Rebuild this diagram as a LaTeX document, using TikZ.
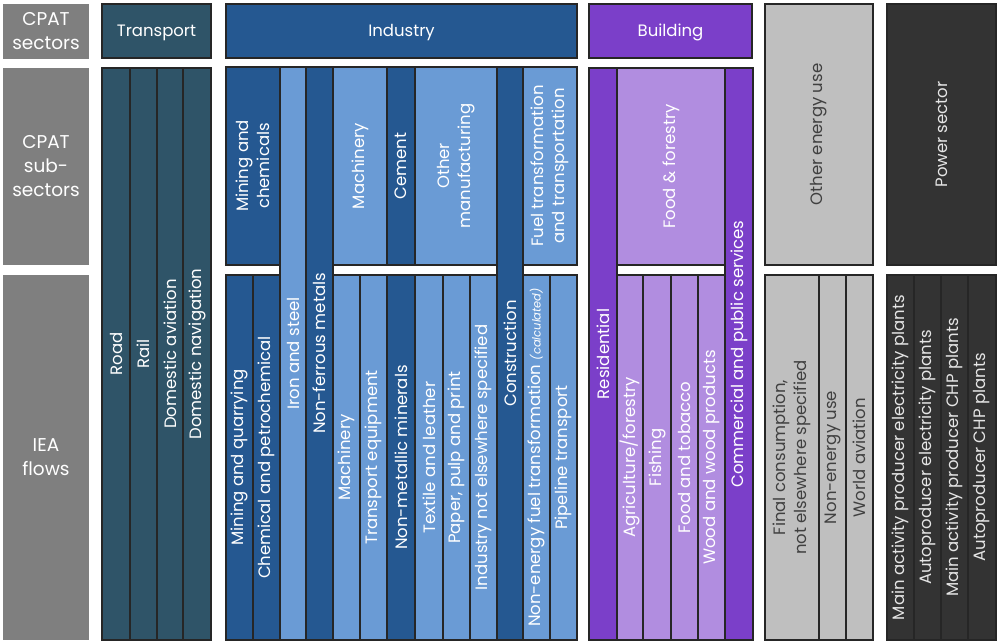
\documentclass[tikz,border=0pt]{standalone}
\usepackage{fontspec}
\setmainfont{Poppins}
\definecolor{edge}{HTML}{262626}
\definecolor{labgray}{HTML}{7F7F7F}
\definecolor{trans}{HTML}{2F5468}
\definecolor{inddark}{HTML}{255891}
\definecolor{indlight}{HTML}{6A9BD5}
\definecolor{bldark}{HTML}{7B3FC9}
\definecolor{bllight}{HTML}{B18DE0}
\definecolor{othgray}{HTML}{BFBFBF}
\definecolor{othtext}{HTML}{404040}
\definecolor{powgray}{HTML}{333333}
\newcommand\fs{\fontsize{16.5}{21.5}\selectfont}
\newcommand\fl{\fontsize{18.5}{24}\selectfont}
\newcommand\hcell[7]{\node[#6, minimum width={(#4-#2)*1pt}, minimum height={(#5-#3)*1pt}] (#1) at ({(#2+#4)/2},{(#3+#5)/2}) {#7};}
\newcommand\vcell[7]{\node[#6, rotate=90, minimum width={(#5-#3)*1pt}, minimum height={(#4-#2)*1pt}] (#1) at ({(#2+#4)/2},{(#3+#5)/2}) {#7};}
\tikzset{
  cell/.style={draw=edge, line width=1.6pt, inner sep=0pt, text=white, align=center, font=\fs},
  lab/.style={fill=labgray, inner sep=0pt, text=white, align=center, font=\fl},
  hd/.style={text height=11.5pt, text depth=0pt},
  tr/.style={cell, fill=trans},
  idk/.style={cell, fill=inddark},
  ilt/.style={cell, fill=indlight},
  bdk/.style={cell, fill=bldark},
  blt/.style={cell, fill=bllight},
  oth/.style={cell, fill=othgray, text=othtext},
  pow/.style={cell, fill=powgray, text=white!90!black}
}
\begin{document}
\begin{tikzpicture}[x=1pt, y=-1pt]
\useasboundingbox (0,0) rectangle (998,642);
% row labels
\hcell{l1}{3}{4}{89}{59}{lab}{CPAT\\sectors}
\hcell{l2}{3}{68}{89}{265}{lab}{CPAT\\sub-\\sectors}
\hcell{l3}{3}{275}{89}{640}{lab}{IEA\\flows}
% Transport
\hcell{th}{102}{4}{211}{58}{tr,hd}{Transport}
\vcell{t1}{102}{68}{130}{640}{tr}{Road}
\vcell{t2}{130}{68}{157}{640}{tr}{Rail}
\vcell{t3}{157}{68}{183}{640}{tr}{Domestic aviation}
\vcell{t4}{183}{68}{211}{640}{tr}{Domestic navigation}
% Industry
\hcell{ih}{226}{4}{577}{58}{idk,hd}{Industry}
\vcell{i1}{226}{67}{280}{265}{idk}{Mining and\\chemicals}
\vcell{i2}{280}{67}{306}{640}{ilt}{Iron and steel}
\vcell{i3}{306}{67}{333}{640}{idk}{Non-ferrous metals}
\vcell{i4}{333}{67}{387}{265}{ilt}{Machinery}
\vcell{i5}{387}{67}{415}{265}{idk}{Cement}
\vcell{i6}{415}{67}{497}{265}{ilt}{Other\\manufacturing}
\vcell{i7}{497}{67}{523}{640}{idk}{Construction}
\vcell{i8}{523}{67}{577}{265}{ilt}{Fuel transformation\\and transportation}
\vcell{f1}{226}{275}{253}{640}{idk}{Mining and quarrying}
\vcell{f2}{253}{275}{280}{640}{idk}{Chemical and petrochemical}
\vcell{f3}{333}{275}{360}{640}{ilt}{Machinery}
\vcell{f4}{360}{275}{387}{640}{ilt}{Transport equipment}
\vcell{f5}{387}{275}{415}{640}{idk}{Non-metallic minerals}
\vcell{f6}{415}{275}{443}{640}{ilt}{Textile and leather}
\vcell{f7}{443}{275}{470}{640}{ilt}{Paper, pulp and print}
\vcell{f8}{470}{275}{497}{640}{ilt}{Industry not elsewhere specified}
\vcell{f9}{523}{275}{550}{640}{ilt}{Non-energy fuel transformation {\itshape\fontsize{11.5}{13}\selectfont (calculated)}}
\vcell{f10}{550}{275}{577}{640}{ilt}{Pipeline transport}
% Building
\hcell{bh}{589}{4}{752}{58}{bdk,hd}{Building}
\vcell{b1}{589}{68}{617}{640}{bdk}{Residential}
\vcell{b2}{617}{68}{725}{265}{blt}{Food \& forestry}
\vcell{b3}{725}{68}{753}{640}{bdk}{Commercial and public services}
\vcell{g1}{617}{275}{643}{640}{blt}{Agriculture/forestry}
\vcell{g2}{643}{275}{671}{640}{blt}{Fishing}
\vcell{g3}{671}{275}{698}{640}{blt}{Food and tobacco}
\vcell{g4}{698}{275}{725}{640}{blt}{Wood and wood products}
% Other energy use
\vcell{o0}{765}{4}{873}{265}{oth}{Other energy use}
\vcell{o1}{765}{275}{819}{640}{oth}{Final consumption,\\not elsewhere specified}
\vcell{o2}{819}{275}{846}{640}{oth}{Non-energy use}
\vcell{o3}{846}{275}{873}{640}{oth}{World aviation}
% Power sector
\vcell{p0}{887}{4}{996}{265}{pow}{Power sector}
\vcell{p1}{887}{275}{914}{640}{pow}{Main activity producer electricity plants}
\vcell{p2}{914}{275}{941}{640}{pow}{Autoproducer electricity plants}
\vcell{p3}{941}{275}{968}{640}{pow}{Main activity producer CHP plants}
\vcell{p4}{968}{275}{996}{640}{pow}{Autoproducer CHP plants}
\end{tikzpicture}
\end{document}
